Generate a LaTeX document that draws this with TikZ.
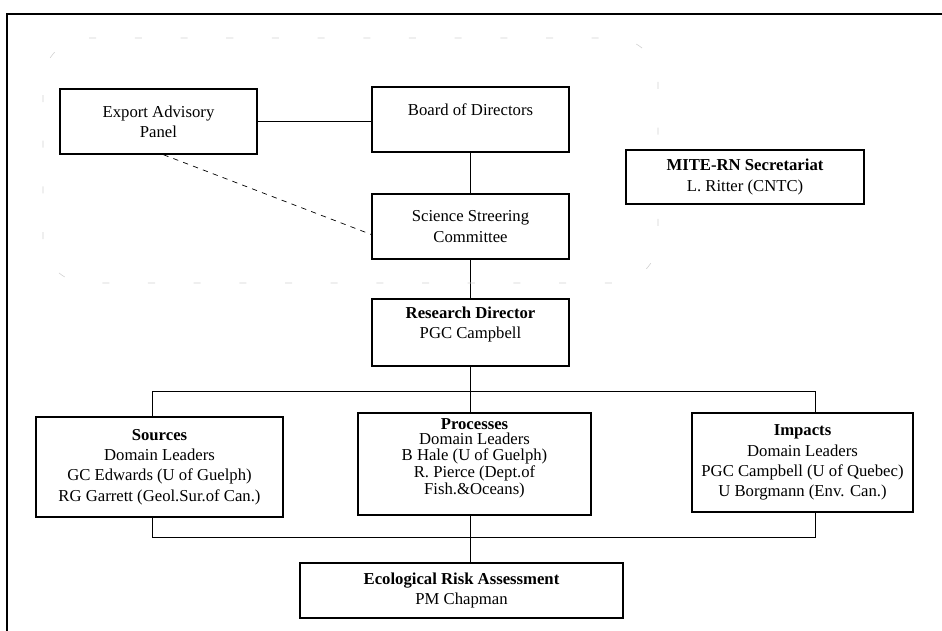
\documentclass[tikz,border=0pt]{standalone}
\usepackage{fontspec}
\setmainfont{Liberation Serif}
\usepackage{tikz}
\usetikzlibrary{calc,backgrounds}
\tikzset{>=stealth}
\tikzset{
  orgbox/.style={draw, fill=white, align=center, inner sep=2pt,
    font=\fontsize{9.5}{11.5}\selectfont},
  tightbox/.style={orgbox, font=\fontsize{9.5}{8.6}\selectfont}
}

\begin{document}
\begin{tikzpicture}[x=0.02cm, y=-0.02cm, line width=0.85pt]
          \def\pxl{0.02cm}
          \useasboundingbox (0,0) rectangle (942,631);
          % page frame and the faint outline round the board part
          \draw[line width=1.1pt] (7,631) -- (7,14) -- (942,14);
          \draw[gray!35, line width=0.35pt, dash pattern=on 4pt off 22pt, rounded corners=25]
            (43,283) -- (43,38) -- (658,38) -- (658,283) -- cycle;

          \node[orgbox, minimum width=197*\pxl, minimum height=65*\pxl] (exp) at (158.5,121.5)
            {Export Advisory\\Panel};
          \node[orgbox, minimum width=197*\pxl, minimum height=65*\pxl] (board) at (470.5,119.5)
            {Board of Directors\\~};
          \node[orgbox, minimum width=197*\pxl, minimum height=65*\pxl] (ssc) at (470.5,226.5)
            {Science Streering\\Committee};
          \node[orgbox, minimum width=197*\pxl, minimum height=67*\pxl] (rd) at (470.5,332.5)
            {\textbf{Research Director}\\PGC Campbell\\~};
          \node[orgbox, minimum width=238*\pxl, minimum height=54*\pxl] (mite) at (745,177)
            {\textbf{MITE-RN Secretariat}\\L. Ritter (CNTC)};

          \node[orgbox, minimum width=247*\pxl, minimum height=100*\pxl] (src) at (159.5,467)
            {\textbf{Sources}\\Domain Leaders\\GC Edwards (U of Guelph)\\RG Garrett (Geol.Sur.of Can.)};
          \node[tightbox, minimum width=233*\pxl, minimum height=102*\pxl] (proc) at (474.5,464)
            {\textbf{Processes}\\Domain Leaders\\B Hale (U of Guelph)\\R. Pierce (Dept.of\\Fish.\&Oceans)\\~};
          \node[orgbox, minimum width=221*\pxl, minimum height=99*\pxl] (imp) at (802.5,462.5)
            {\textbf{Impacts}\\Domain Leaders\\PGC Campbell (U of Quebec)\\U Borgmann (Env. Can.)};
          \node[orgbox, minimum width=323*\pxl, minimum height=55*\pxl] (era) at (461.5,590.5)
            {\textbf{Ecological Risk Assessment}\\PM Chapman};

          \coordinate (busnw) at (152,391);
          \coordinate (busse) at (815,537);

          \begin{pgfonlayer}{background}
            \draw (exp.east) -- (exp.east -| board.west);
            \draw (board) -- (ssc);
            \draw (ssc) -- (rd);
            \draw[dashed] ($(exp.south)+(5,0)$) -- ($(ssc.west)+(0,8)$);
            \draw (rd) -- (rd |- busnw);
            \draw (busnw) rectangle (busse);
            \draw (rd |- busnw) -- (rd |- era.north);
          \end{pgfonlayer}
        \end{tikzpicture}
\end{document}
